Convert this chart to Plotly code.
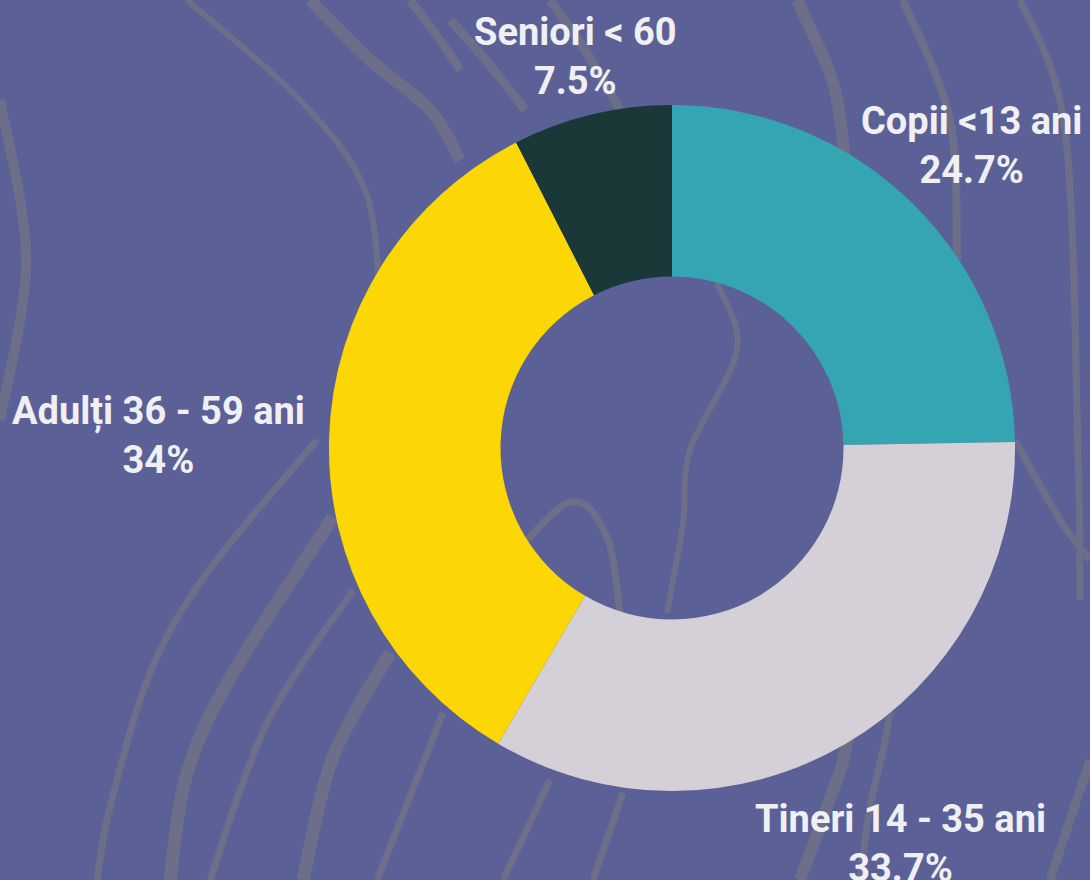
import plotly.graph_objects as go

# Data
categories = ["Copii <13 ani", "Tineri 14 - 35 ani", "Adulți 36 - 59 ani", "Seniori < 60"]
shares = [24.7, 33.7, 34, 7.5]
colors = ["#36a5b2", "#d5d0d8", "#fcd605", "#1a3838"]
# label block centres (paper fractions) for the outside labels
label_x = [0.891, 0.826, 0.145, 0.528]
label_y = [0.835, 0.042, 0.505, 0.936]

BG = "#5b6196"
LINE = "#6d6f8a"
TEXT = "#f0f0f4"

W, H = 1090, 880

fig = go.Figure()
fig.add_trace(go.Pie(
    labels=categories,
    values=shares,
    textinfo="none",
    hole=0.5,
    sort=False,
    direction="clockwise",
    rotation=0,
    marker=dict(colors=colors, line=dict(width=0)),
    showlegend=False,
    domain=dict(x=[0.3018, 0.9312], y=[0.1011, 0.8807]),
))

annotations = []
for c, v, x, y in zip(categories, shares, label_x, label_y):
    annotations.append(dict(
        text=f"{c.replace('<', '&lt;')}<br>{v:g}%",
        x=x, y=y, xref="paper", yref="paper",
        xanchor="center", yanchor="middle", showarrow=False,
        align="center",
        font=dict(family="Roboto", size=38, color=TEXT, weight="bold"),
    ))

# decorative background curves (pixel points -> paper coordinates)
curves = [
    ([(0, 100), (26, 260), (0, 420)], 10),
    ([(187, 0), (300, 100), (365, 190), (380, 300)], 6),
    ([(310, 0), (370, 60), (430, 110), (460, 160)], 12),
    ([(410, 0), (440, 40), (460, 70)], 9),
    ([(450, 20), (490, 65), (525, 110)], 9),
    ([(550, 0), (585, 50), (620, 110)], 9),
    ([(797, 0), (833, 83), (845, 160)], 12),
    ([(903, 0), (950, 120), (957, 260)], 8),
    ([(1020, 0), (1065, 130), (1078, 450), (1080, 600)], 7),
    ([(317, 440), (207, 573), (150, 673), (110, 807), (97, 880)], 7),
    ([(333, 517), (233, 673), (187, 773), (170, 880)], 13),
    ([(353, 590), (267, 723), (210, 880)], 7),
    ([(390, 653), (333, 757), (303, 880)], 13),
    ([(443, 713), (377, 880)], 7),
    ([(505, 565), (570, 502), (607, 537), (620, 613)], 7),
    ([(550, 780), (503, 880)], 7),
    ([(623, 793), (593, 880)], 7),
    ([(717, 283), (737, 350), (690, 450), (683, 523), (667, 613)], 6),
    ([(910, 460), (950, 540), (975, 607)], 7),
    ([(840, 667), (847, 740), (827, 807), (800, 880)], 12),
    ([(883, 600), (890, 707), (870, 807), (860, 880)], 7),
    ([(1015, 440), (1060, 520), (1090, 560)], 7),
    ([(1090, 760), (1050, 880)], 9),
]


def to_path(pts):
    P = [(x / W, 1 - y / H) for x, y in pts]
    s = f"M {P[0][0]:.4f},{P[0][1]:.4f}"
    if len(P) == 2:
        return s + f" L {P[1][0]:.4f},{P[1][1]:.4f}"
    for i in range(len(P) - 1):
        p0 = P[i - 1] if i > 0 else P[i]
        p1 = P[i]
        p2 = P[i + 1]
        p3 = P[i + 2] if i + 2 < len(P) else P[i + 1]
        c1 = (p1[0] + (p2[0] - p0[0]) / 6, p1[1] + (p2[1] - p0[1]) / 6)
        c2 = (p2[0] - (p3[0] - p1[0]) / 6, p2[1] - (p3[1] - p1[1]) / 6)
        s += f" C {c1[0]:.4f},{c1[1]:.4f} {c2[0]:.4f},{c2[1]:.4f} {p2[0]:.4f},{p2[1]:.4f}"
    return s


shapes = [dict(type="path", xref="paper", yref="paper", path=to_path(pts),
               line=dict(color=LINE, width=w), layer="below") for pts, w in curves]

fig.update_layout(
    width=W, height=H,
    margin=dict(l=0, r=0, t=0, b=0),
    paper_bgcolor=BG,
    plot_bgcolor=BG,
    shapes=shapes,
    annotations=annotations,
    font=dict(family="Roboto", color=TEXT),
)

fig.write_html(
    "out.html",
    config={"displayModeBar": False},
    post_script="document.body.style.margin='0';document.body.style.overflow='hidden';",
)
